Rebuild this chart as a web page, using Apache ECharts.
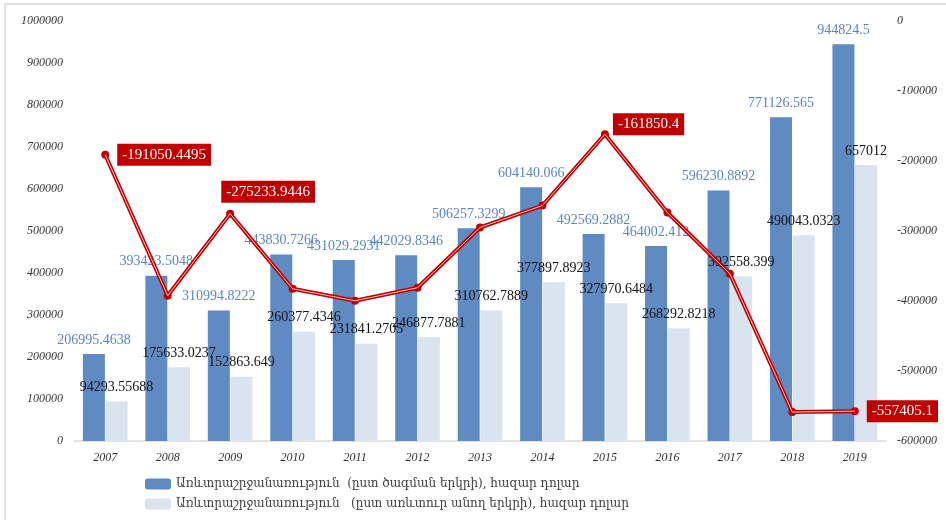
<!DOCTYPE html>
<html>
<head>
<meta charset="utf-8">
<script src="https://cdn.jsdelivr.net/npm/echarts@6/dist/echarts.min.js"></script>
<style>
  html, body { margin: 0; padding: 0; background: #fff; }
  #chart { width: 946px; height: 520px; }
</style>
</head>
<body>
<div id="chart"></div>
<script>
// years on the x axis
var years = ['2007', '2008', '2009', '2010', '2011', '2012', '2013', '2014', '2015', '2016', '2017', '2018', '2019'];

// trade turnover by country of origin, thousand USD
var byOrigin = [206995.4638, 393423.5048, 310994.8222, 443830.7266, 431029.2931, 442029.8346, 506257.3299,
  604140.066, 492569.2882, 464002.412, 596230.8892, 771126.565, 944824.5];

// trade turnover by trading country, thousand USD
var byTrader = [94293.55688, 175633.0237, 152863.649, 260377.4346, 231841.2705, 246877.7881, 310762.7889,
  377897.8923, 327970.6484, 268292.8218, 392558.399, 490043.0323, 657012];

// balance line (right axis); unlabeled points
var balance = [-191050.4495, -392500, -275233.9446, -382500, -399700, -381000, -295000,
  -263600, -161850.4, -273600, -361000, -558700, -557405.1];

// which balance points carry a label, and where
var labelPos = {
  0: { position: 'right', distance: 8, offset: [0, 0] },
  2: { position: 'top', distance: 7, offset: [38, 0] },
  8: { position: 'right', distance: 4, offset: [0, -10] },
  12: { position: 'right', distance: 8, offset: [0, 0] }
};

var leftTicks = { min: 0, max: 1000000, interval: 100000 };
var rightTicks = { min: -600000, max: 0, interval: 100000 };

var legendNames = [
  'Առևտրաշրջանառություն  (ըստ ծագման երկրի), հազար դոլար',
  'Առևտրաշրջանառություն   (ըստ առևտուր անող երկրի), հազար դոլար'
];

var serif = '"Liberation Serif", "DejaVu Serif", serif';

var chart = echarts.init(document.getElementById('chart'));

var balanceData = balance.map(function (v, i) {
  var item = { value: v };
  var lp = labelPos[i];
  if (lp) {
    item.label = {
      show: true,
      position: lp.position,
      distance: lp.distance,
      offset: lp.offset,
      formatter: function (p) { return String(p.value); }
    };
  }
  return item;
});

var plainNum = function (v) { return String(v); };

var option = {
  animation: false,
  backgroundColor: '#fff',
  graphic: [{
    type: 'rect',
    shape: { x: 5, y: 4, width: 950, height: 530 },
    style: { fill: 'none', stroke: '#d9d9d9', lineWidth: 1.5 },
    silent: true
  }],
  grid: { left: 74, right: 60, top: 21, bottom: 79 },
  legend: {
    orient: 'vertical',
    left: 140,
    top: 473,
    itemWidth: 26,
    itemHeight: 11,
    itemGap: 8,
    data: legendNames,
    textStyle: { fontFamily: '"DejaVu Serif", serif', fontSize: 12, color: '#404040' }
  },
  xAxis: {
    type: 'category',
    data: years,
    axisTick: { show: false },
    axisLine: { lineStyle: { color: '#d9d9d9', width: 1.5 } },
    axisLabel: { fontFamily: serif, fontStyle: 'italic', fontSize: 12, color: '#333', margin: 11 }
  },
  yAxis: [{
    type: 'value',
    min: leftTicks.min,
    max: leftTicks.max,
    interval: leftTicks.interval,
    splitLine: { show: false },
    axisLine: { show: false },
    axisTick: { show: false },
    axisLabel: { fontFamily: serif, fontStyle: 'italic', fontSize: 12, color: '#333', margin: 11, formatter: plainNum }
  }, {
    type: 'value',
    min: rightTicks.min,
    max: rightTicks.max,
    interval: rightTicks.interval,
    splitLine: { show: false },
    axisLine: { show: false },
    axisTick: { show: false },
    axisLabel: { fontFamily: serif, fontStyle: 'italic', fontSize: 12, color: '#333', margin: 11, formatter: plainNum }
  }],
  series: [{
    name: legendNames[0],
    type: 'bar',
    data: byOrigin,
    barWidth: 22,
    barGap: '3%',
    itemStyle: { color: '#5f8bc2' },
    label: {
      show: true, position: 'top', distance: 7,
      fontFamily: serif, fontSize: 14, color: '#5a86c0'
    },
    z: 2
  }, {
    name: legendNames[1],
    type: 'bar',
    data: byTrader,
    barWidth: 22,
    itemStyle: { color: '#dae3f0' },
    label: {
      show: true, position: 'top', distance: 7,
      fontFamily: serif, fontSize: 14, color: '#111'
    },
    z: 2
  }, {
    name: 'balance',
    type: 'line',
    yAxisIndex: 1,
    data: balanceData,
    symbol: 'circle',
    symbolSize: 8,
    itemStyle: { color: '#c00000' },
    lineStyle: { color: '#c00000', width: 4 },
    label: {
      show: false,
      fontFamily: serif, fontSize: 15, color: '#fff',
      backgroundColor: '#c00000',
      padding: [4, 5, 3, 5]
    },
    z: 5
  }, {
    name: 'balance-inner',
    type: 'line',
    yAxisIndex: 1,
    data: balance,
    symbol: 'none',
    lineStyle: { color: '#f3c9c9', width: 1 },
    silent: true,
    z: 6
  }]
};

chart.setOption(option);
</script>
</body>
</html>
